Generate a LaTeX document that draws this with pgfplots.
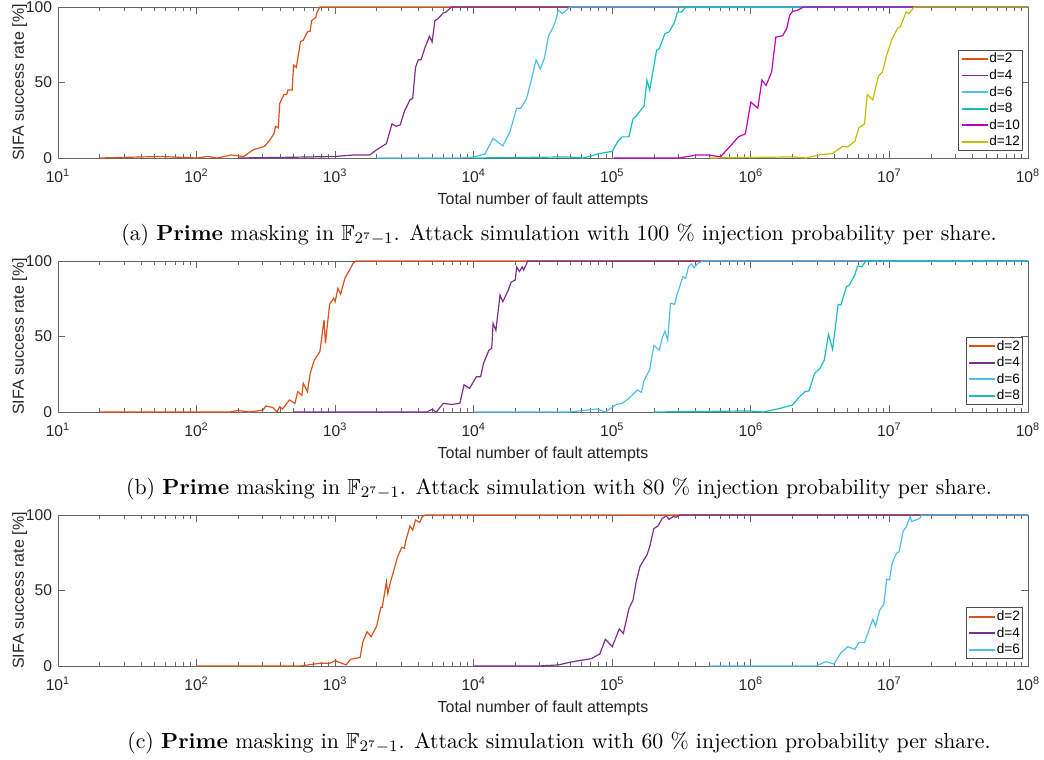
\documentclass[border=0pt]{standalone}
\usepackage{amsmath,amssymb}
\usepackage{fontspec}
\usepackage{pgfplots}
\pgfplotsset{compat=1.18}
\newfontfamily\arial{Liberation Sans}
\definecolor{c2}{rgb}{0.85,0.325,0.098}
\definecolor{c4}{rgb}{0.494,0.184,0.556}
\definecolor{c6}{rgb}{0.302,0.745,0.933}
\definecolor{c8}{rgb}{0.08,0.75,0.75}
\definecolor{c10}{rgb}{0.75,0,0.75}
\definecolor{c12}{rgb}{0.75,0.75,0}
\pgfplotsset{
  legend image code/.code={\draw[#1, line width=0.9pt] (0pt,0pt) -- (13pt,0pt);},
  every axis plot/.append style={line width=0.6pt},
  every axis/.append style={
    xmode=log, xmin=10, xmax=1e8, ymin=0, ymax=100,
    scale only axis, width=485pt, height=75.5pt,
    anchor=south west, clip=false,
    axis line style={black!60},
    every tick/.style={black!60},
    tick align=inside, major tick length=3.5pt, minor tick length=2pt,
    xtick={10,100,1000,10000,100000,1000000,10000000,100000000},
    xticklabels={10\textsuperscript{1},10\textsuperscript{2},10\textsuperscript{3},10\textsuperscript{4},10\textsuperscript{5},10\textsuperscript{6},10\textsuperscript{7},10\textsuperscript{8}},
    ytick={0,50,100}, yticklabels={0,50,100},
    ticklabel style={font=\arial\fontsize{7.8}{9}\selectfont, text=black!85},
    xticklabel style={yshift=-2pt},
    yticklabel style={xshift=0.5pt},
    xlabel={Total number of fault attempts},
    ylabel={SIFA success rate [\%]},
    label style={font=\arial\fontsize{8}{9}\selectfont, text=black!85},
    xlabel style={yshift=1.5pt},
    ylabel style={yshift=-7.5pt},
    legend style={font=\arial\fontsize{6.8}{7}\selectfont, draw=black!70, at={(0.995,0.046)}, anchor=south east, inner sep=1pt, row sep=1.5pt, text=black,
      nodes={inner sep=0.4pt, text height=5pt, text depth=1pt}},
    legend cell align=left,
  }
}
\begin{document}
\begin{tikzpicture}
\path[use as bounding box] (0,0) rectangle (522pt,380pt);
% ---------------- (a)
\begin{axis}[at={(29pt,301pt)}]
\addplot[c2] table[x expr=10^\thisrow{lx}, y=y] {
lx y
1.30 0
1.74 1
2.00 0
2.08 1
2.15 0
2.25 2
2.34 1
2.41 5.5
2.49 7.7
2.53 12
2.56 16.5
2.57 21
2.59 20
2.60 36
2.63 42
2.65 42
2.66 45
2.69 45
2.70 61.5
2.72 60
2.75 77
2.77 78
2.80 83.5
2.82 84
2.83 91
2.86 93
2.87 96.7
2.89 100
8 100
};
\addlegendentry{d=2}
\addplot[c4] table[x expr=10^\thisrow{lx}, y=y] {
lx y
2.30 0
2.70 0.5
3.00 1
3.13 2
3.25 2
3.30 5.5
3.37 9.5
3.41 22.6
3.44 21
3.47 22
3.50 31
3.54 38.5
3.56 39.5
3.58 60
3.60 65
3.62 65
3.65 73.6
3.67 78
3.68 80.7
3.70 77
3.72 91
3.74 92
3.78 96
3.80 96.7
3.84 100
8 100
};
\addlegendentry{d=4}
\addplot[c6] table[x expr=10^\thisrow{lx}, y=y] {
lx y
3.30 0
3.90 0
4.00 0.7
4.08 2.6
4.14 13
4.21 8
4.26 17
4.31 33
4.34 33
4.38 39
4.41 49.5
4.45 65
4.48 59
4.51 66
4.54 81
4.57 86
4.59 90.5
4.61 98
4.64 95.6
4.67 98
4.68 99
4.70 100
8 100
};
\addlegendentry{d=6}
\addplot[c8] table[x expr=10^\thisrow{lx}, y=y] {
lx y
4.00 0
4.67 0.7
4.79 0
4.91 3
5.00 4.4
5.04 11
5.07 14
5.12 14
5.15 26
5.17 27.5
5.23 34.5
5.25 51.6
5.27 45
5.32 71.4
5.34 72.5
5.38 82.4
5.41 83.5
5.45 90
5.47 96.7
5.50 96.7
5.53 100
8 100
};
\addlegendentry{d=8}
\addplot[c10] table[x expr=10^\thisrow{lx}, y=y] {
lx y
5.01 0
5.48 0
5.61 2
5.70 2
5.78 0.7
5.85 7.7
5.91 14
5.96 16
6.00 37
6.05 33
6.08 51.6
6.11 48
6.15 57
6.18 80
6.23 81
6.26 86
6.28 94.5
6.30 97
6.34 98
6.38 100
8 100
};
\addlegendentry{d=10}
\addplot[c12] table[x expr=10^\thisrow{lx}, y=y] {
lx y
5.70 0
6.30 0.7
6.40 0
6.50 2.2
6.59 3
6.66 7.7
6.70 7.3
6.75 11
6.78 20
6.82 22.6
6.84 42
6.88 38.5
6.92 54
6.95 57
6.98 68
7.02 79
7.06 86
7.08 87
7.12 96.7
7.14 95.6
7.18 100
8 100
};
\addlegendentry{d=12}
\end{axis}
% ---------------- (b)
\begin{axis}[at={(29pt,174pt)}]
\addplot[c2] table[x expr=10^\thisrow{lx}, y=y] {
lx y
1.30 0
2.24 0
2.30 1
2.38 0
2.48 1.3
2.50 4
2.55 3
2.58 0
2.60 3.5
2.62 2
2.67 8
2.71 5.7
2.73 13.5
2.76 11
2.77 19
2.80 13.5
2.82 25.6
2.85 34.4
2.89 40
2.92 61
2.93 45.5
2.96 71.3
2.99 75.3
3.00 73
3.02 82
3.04 78
3.07 88.5
3.11 95
3.13 98.5
3.15 100
8 100
};
\addlegendentry{d=2}
\addplot[c4] table[x expr=10^\thisrow{lx}, y=y] {
lx y
2.70 0
3.66 0
3.70 1.8
3.73 0
3.78 5.7
3.84 5
3.90 5.7
3.93 18
3.97 15.7
4.02 23.4
4.05 23.4
4.07 32
4.11 41
4.13 42
4.14 58.7
4.16 54
4.19 77.5
4.21 73
4.25 80.8
4.27 86
4.30 87.4
4.31 96
4.33 93
4.35 96
4.36 94
4.39 100
8 100
};
\addlegendentry{d=4}
\addplot[c6] table[x expr=10^\thisrow{lx}, y=y] {
lx y
4.00 0
4.69 0
4.79 1
4.89 2
4.95 0
5.03 5
5.07 5.7
5.12 9
5.18 14.6
5.21 13
5.23 21
5.27 28
5.30 44
5.34 41
5.36 48.8
5.38 53.6
5.40 47.7
5.42 72
5.45 71.3
5.47 78.6
5.51 89.6
5.53 88.5
5.55 96.2
5.57 98
5.59 95.6
5.62 98.5
5.65 100
8 100
};
\addlegendentry{d=6}
\addplot[c8] table[x expr=10^\thisrow{lx}, y=y] {
lx y
5.30 0
5.99 0.7
6.09 0
6.21 2.4
6.30 4.6
6.35 10
6.39 13.5
6.42 14
6.46 25.6
6.50 29
6.53 34.4
6.56 51.4
6.59 41.5
6.63 71.3
6.65 70.9
6.69 83
6.71 84
6.75 90.7
6.77 96.7
6.80 96.2
6.83 100
8 100
};
\addlegendentry{d=8}
\end{axis}
% ---------------- (c)
\begin{axis}[at={(29pt,47pt)}]
\addplot[c2] table[x expr=10^\thisrow{lx}, y=y] {
lx y
2.00 0
2.75 0
2.89 1.8
2.96 1.8
3.00 3.5
3.08 0.7
3.11 4.4
3.18 5.7
3.20 16
3.23 22.7
3.26 19.4
3.30 26.5
3.33 38.9
3.34 38.9
3.37 55.8
3.38 48
3.40 55.8
3.41 59
3.45 72
3.48 78.6
3.50 78
3.51 83
3.54 92.7
3.56 90
3.58 96.7
3.61 95
3.63 99
3.65 100
8 100
};
\addlegendentry{d=2}
\addplot[c4] table[x expr=10^\thisrow{lx}, y=y] {
lx y
4.00 0
4.47 0
4.61 0.7
4.70 2.6
4.85 4.9
4.91 8
4.95 17.7
5.00 12.8
5.05 24.5
5.08 21.6
5.12 38
5.15 43.7
5.17 54.7
5.20 66
5.25 73.5
5.27 79
5.30 91
5.33 92.7
5.36 97.8
5.39 99.3
5.41 97.1
5.44 99
5.46 98.5
5.49 100
8 100
};
\addlegendentry{d=4}
\addplot[c6] table[x expr=10^\thisrow{lx}, y=y] {
lx y
5.70 0
6.47 0
6.54 2.9
6.60 1.3
6.65 8.8
6.70 12.8
6.75 11
6.78 15.5
6.82 15.5
6.88 31
6.90 26.5
6.93 37
6.96 41
6.98 57.4
7.00 57
7.02 68
7.05 74.6
7.07 75.7
7.10 89.6
7.12 91.8
7.15 99
7.16 95.6
7.19 96.7
7.22 97.8
7.23 100
8 100
};
\addlegendentry{d=6}
\end{axis}
% captions
\node[font=\fontsize{10.9}{13}\selectfont] at (279.5pt,262.5pt) {(a) \textbf{Prime} masking in $\mathbb{F}_{2^7-1}$. Attack simulation with 100 \% injection probability per share.};
\node[font=\fontsize{10.9}{13}\selectfont] at (279.5pt,135.5pt) {(b) \textbf{Prime} masking in $\mathbb{F}_{2^7-1}$. Attack simulation with 80 \% injection probability per share.};
\node[font=\fontsize{10.9}{13}\selectfont] at (279.5pt,8.5pt) {(c) \textbf{Prime} masking in $\mathbb{F}_{2^7-1}$. Attack simulation with 60 \% injection probability per share.};
\end{tikzpicture}
\end{document}
